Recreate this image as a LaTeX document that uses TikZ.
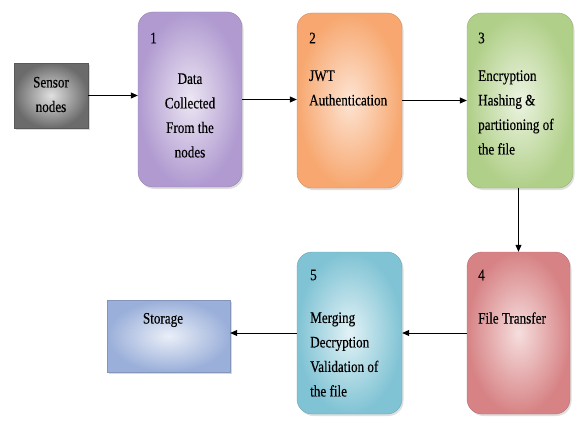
\documentclass[tikz,border=0pt]{standalone}
\usepackage{fontspec}
\setmainfont{Liberation Serif}[FakeStretch=0.82, FakeBold=0.3]
\usetikzlibrary{arrows.meta,shadows}
\definecolor{purE}{HTML}{B09AD0}\definecolor{purI}{HTML}{ECE6F3}
\definecolor{orE}{HTML}{F7A76F}\definecolor{orI}{HTML}{FDE4D3}
\definecolor{grE}{HTML}{B0CF88}\definecolor{grI}{HTML}{ECF4E1}
\definecolor{pkE}{HTML}{D78385}\definecolor{pkI}{HTML}{F6DEDE}
\definecolor{blE}{HTML}{80C3D4}\definecolor{blI}{HTML}{E2F2F6}
\definecolor{stE}{HTML}{9AAFD9}\definecolor{stI}{HTML}{EAEFF8}
\tikzset{
  stage/.style={rounded corners=15pt, draw=#1E!85!black, line width=0.4pt,
    inner color=#1I, outer color=#1E,
    drop shadow={shadow xshift=1.5pt, shadow yshift=-2pt, opacity=0.25}},
  txt/.style={inner sep=0pt, font=\fontsize{16}{24.5}\selectfont},
  arr/.style={-{Triangle[length=7pt,width=6pt]}, line width=0.8pt}
}
\begin{document}
\begin{tikzpicture}[x=1pt,y=-1pt]
\useasboundingbox (0,0) rectangle (575,420);
% boxes
\node[draw=black!65, inner color=black!12, outer color=black!58, minimum width=74pt, minimum height=65pt,
  drop shadow={shadow xshift=1.5pt, shadow yshift=-2pt, opacity=0.3}] (sensor) at (51,95.5) {};
\node[stage=pur, minimum width=104pt, minimum height=175pt] (b1) at (190,99.5) {};
\node[stage=or, minimum width=105pt, minimum height=175pt] (b2) at (349.5,100.5) {};
\node[stage=gr, minimum width=106pt, minimum height=175pt] (b3) at (520,100.5) {};
\node[stage=pk, minimum width=103pt, minimum height=162pt] (b4) at (518.5,333) {};
\node[stage=bl, minimum width=105pt, minimum height=162pt] (b5) at (349.5,333) {};
\node[draw=stE!85!black, inner color=stI, outer color=stE, minimum width=123pt, minimum height=72pt,
  drop shadow={shadow xshift=1.5pt, shadow yshift=-2pt, opacity=0.3}] (st) at (168.5,336) {};
% texts
\node[txt, align=center] (tsensor) at (51,94.5) {Sensor\\nodes};
\node[txt, anchor=west] (n1) at (150,38) {1};
\node[txt, align=center] (t1) at (190,115.5) {Data\\Collected\\From the\\nodes};
\node[txt, anchor=west] (n2) at (309,38) {2};
\node[txt, align=left, anchor=west] (t2) at (309,88) {JWT\\Authentication};
\node[txt, anchor=west] (n3) at (478,38) {3};
\node[txt, align=left, anchor=west] (t3) at (478,112.5) {Encryption\\Hashing \&\\partitioning of\\the file};
\node[txt, anchor=west] (n4) at (478,275) {4};
\node[txt, anchor=west] (t4) at (478,318) {File Transfer};
\node[txt, anchor=west] (n5) at (310,275) {5};
\node[txt, align=left, anchor=west] (t5) at (310,354.5) {Merging\\Decryption\\Validation of\\the file};
\node[txt] (tst) at (163,320) {Storage};
% arrows
\draw[arr] (sensor.east) -- (sensor.east -| b1.west);
\draw[arr] (b1.east) -- (b1.east -| b2.west);
\draw[arr] (b2.east) -- (b2.east -| b3.west);
\draw[arr] (b4.north |- b3.south) -- (b4.north);
\draw[arr] (b4.west) -- (b4.west -| b5.east);
\draw[arr] (b5.west) -- (b5.west -| st.east);
\end{tikzpicture}
\end{document}
